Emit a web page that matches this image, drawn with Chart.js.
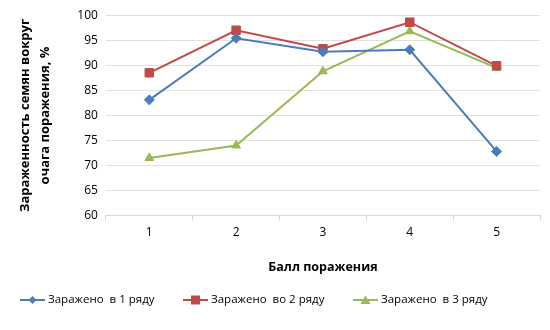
<!DOCTYPE html>
<html>
<head>
<meta charset="utf-8">
<script src="https://cdn.jsdelivr.net/npm/chart.js@4"></script>
<style>
  body { margin: 0; background: #fff; }
  #wrap { width: 550px; height: 330px; }
</style>
</head>
<body>
<div id="wrap"><canvas id="chart-porazh" width="550" height="330"></canvas></div>
<script>
// баллы поражения
var categories = ["1", "2", "3", "4", "5"];
var ryad1 = [83.1, 95.4, 92.7, 93.1, 72.8];
var ryad2 = [88.5, 97.0, 93.3, 98.6, 89.9];
var ryad3 = [71.5, 74.0, 88.8, 96.8, 89.5];
var seriesNames = ["Заражено  в 1 ряду", "Заражено  во 2 ряду", "Заражено  в 3 ряду"];
var yTicks = [60, 65, 70, 75, 80, 85, 90, 95, 100];

var FONT = "'Open Sans', 'DejaVu Sans', sans-serif";

var colors = ["#4a7ebb", "#be4b48", "#98b954"];
var styles = ["rectRot", "rect", "triangle"];

// легенда снизу: линия + маркер + текст
var legendX = [20, 183, 353];
var legendY = 300;

function drawMarker(g, style, x, y, color) {
    g.fillStyle = color;
    g.beginPath();
    if (style === "rectRot") {
        g.moveTo(x, y - 4); g.lineTo(x + 4, y); g.lineTo(x, y + 4); g.lineTo(x - 4, y);
    } else if (style === "rect") {
        g.rect(x - 4.5, y - 4.5, 9, 9);
    } else {
        g.moveTo(x, y - 4.5); g.lineTo(x + 5, y + 4); g.lineTo(x - 5, y + 4);
    }
    g.closePath();
    g.fill();
}

var legendPlugin = {
    id: "nizLegend",
    afterDraw: function (chart) {
        var g = chart.ctx;
        g.save();
        chart.data.datasets.forEach(function (ds, i) {
            var x = legendX[i];
            g.strokeStyle = colors[i];
            g.lineWidth = 2;
            g.beginPath(); g.moveTo(x, legendY); g.lineTo(x + 25, legendY); g.stroke();
            drawMarker(g, styles[i], x + 12.5, legendY, colors[i]);
            g.fillStyle = "#000";
            g.font = "11.5px " + FONT;
            g.textBaseline = "middle";
            g.textAlign = "left";
            g.fillText(ds.label, x + 28, legendY);
        });
        g.restore();
    }
};

var datasets = [ryad1, ryad2, ryad3].map(function (d, i) {
    return {
        label: seriesNames[i],
        data: d,
        borderColor: colors[i],
        backgroundColor: colors[i],
        borderWidth: 2,
        pointStyle: styles[i],
        pointRadius: i === 1 ? 6 : 5,
        pointBorderWidth: 1,
        tension: 0
    };
});

var ctx = document.getElementById("chart-porazh").getContext("2d");
var myChart = new Chart(ctx, {
    type: "line",
    data: { labels: categories, datasets: datasets },
    options: {
        responsive: false,
        animation: false,
        layout: { padding: { left: 15, right: 10, top: 5, bottom: 45 } },
        plugins: {
            tooltip: { enabled: false },
            legend: { display: false }
        },
        scales: {
            x: {
                offset: true,
                grid: { display: true, drawOnChartArea: false, tickLength: 5, color: "#d9d9d9", offset: true },
                border: { color: "#d9d9d9" },
                ticks: { color: "#000", font: { family: FONT, size: 12 }, padding: 5 },
                title: {
                    display: true,
                    text: "Балл поражения",
                    color: "#000",
                    font: { family: FONT, size: 12.5, weight: "bold" },
                    padding: { top: 15, bottom: 10 }
                }
            },
            y: {
                min: 60,
                max: 100,
                afterBuildTicks: function (axis) {
                    axis.ticks = yTicks.map(function (v) { return { value: v }; });
                },
                grid: { color: "#e0e0e0", drawTicks: false },
                border: { display: false },
                ticks: { color: "#000", font: { family: FONT, size: 12 }, padding: 8, autoSkip: false },
                title: {
                    display: true,
                    text: ["Зараженность семян вокруг", "очага поражения, %"],
                    color: "#000",
                    font: { family: FONT, size: 13, weight: "bold", lineHeight: 1.55 },
                    padding: { top: 0, bottom: 14 }
                }
            }
        }
    },
    plugins: [legendPlugin]
});
</script>
</body>
</html>
